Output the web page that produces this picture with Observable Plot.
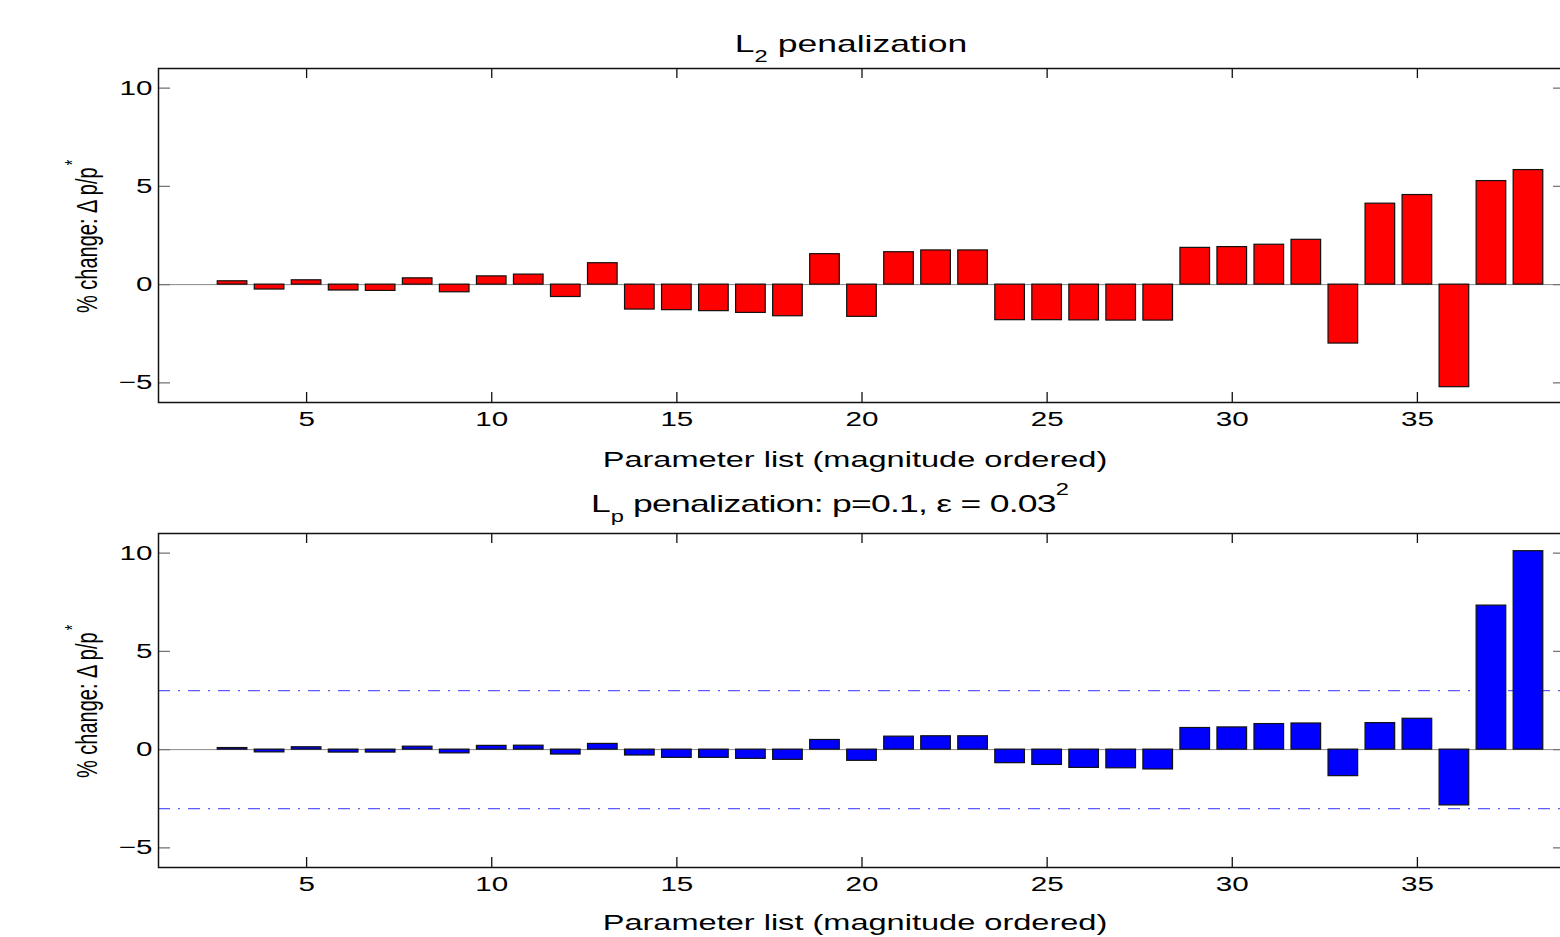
<!DOCTYPE html>
<html>
<head>
<meta charset="utf-8">
<script src="https://cdn.jsdelivr.net/npm/d3@7"></script>
<script src="https://cdn.jsdelivr.net/npm/@observablehq/plot@0.6"></script>
<style>
  html, body { margin: 0; padding: 0; background: #fff; }
  #root { position: relative; width: 1560px; height: 937px; overflow: hidden; background: #fff; }
  .panel { position: absolute; left: 0; width: 1570px; }
</style>
</head>
<body>
<div id="root"></div>
<script>
// ---- data ----
const paramIndex = [1, 2, 3, 4, 5, 6, 7, 8, 9, 10, 11, 12, 13, 14, 15, 16, 17, 18, 19,
  20, 21, 22, 23, 24, 25, 26, 27, 28, 29, 30, 31, 32, 33, 34, 35, 36, 37, 38];
const l2Change = [0, 0, 0.17, -0.25, 0.22, -0.30, -0.32, 0.32, -0.39, 0.42, 0.51, -0.63,
  1.09, -1.27, -1.30, -1.35, -1.44, -1.61, 1.55, -1.64, 1.65, 1.74, 1.74, -1.81, -1.81,
  -1.82, -1.83, -1.83, 1.87, 1.91, 2.03, 2.28, -3.0, 4.12, 4.56, -5.22, 5.27, 5.83];
const lpChange = [0, 0, 0.08, -0.14, 0.12, -0.15, -0.15, 0.15, -0.19, 0.19, 0.20, -0.25,
  0.29, -0.30, -0.42, -0.42, -0.47, -0.52, 0.49, -0.57, 0.66, 0.68, 0.68, -0.69, -0.78,
  -0.93, -0.95, -1.01, 1.10, 1.13, 1.30, 1.33, -1.35, 1.35, 1.57, -2.84, 7.33, 10.10];
const lpThresholds = [3, -3];
const xTicks = [5, 10, 15, 20, 25, 30, 35];
const yTicks = [-5, 0, 5, 10];
const xDomain = [1, 39];
const yDomain = [-6, 11];
const xLabel = "Parameter list (magnitude ordered)";
const yLabelMain = "% change: \u0394 p/p";
const yLabelSup = "*";
// [text, baseline offset (absolute), font size, letter spacing]
const titleTop = [["L", 0, 24, 0], ["2", 10, 16, 0], [" penalization", 0, 24, 0]];
const titleBottom = [["L", 0, 24, 0], ["p", 10, 16, 0], [" penalization: p=0.1, \u03b5 = 0.03", 0, 24, -0.5], ["2", -17, 16, 0]];

// ---- layout ----
const W = 1570, ML = 158, MR = 5;
const K = 1.48; // horizontal stretch of the reference text
const FONT = "'Liberation Sans', Arial, Helvetica, sans-serif";

function stretchTexts(svg) {
  svg.querySelectorAll("text").forEach(t => {
    if (t.dataset.fixed) return;
    const xa = t.getAttribute("x");
    let x = 0;
    if (xa !== null && !/em/.test(xa)) { x = +xa || 0; t.removeAttribute("x"); }
    const tr = t.getAttribute("transform") || "";
    t.setAttribute("transform", `${tr} translate(${x},0) scale(${K},1)`);
  });
}

function panel({values, color, top, height, mTop, mBottom, title, titleX, titleY, xLabelOffset, extra = []}) {
  const data = paramIndex.map((p, i) => ({p, v: values[i]}));
  const frameH = height - mTop - mBottom;
  const frameW = W - ML - MR;
  const svg = Plot.plot({
    width: W, height,
    marginLeft: ML, marginRight: MR, marginTop: mTop, marginBottom: mBottom,
    style: {fontFamily: FONT, fontSize: "20px", color: "black", background: "transparent", maxWidth: "none", overflow: "visible"},
    x: {type: "linear", domain: xDomain},
    y: {type: "linear", domain: yDomain},
    marks: [
      Plot.ruleY([0], {stroke: "#8a8a8a", strokeWidth: 1}),
      ...extra,
      Plot.rect(data, {x1: d => d.p - 0.4, x2: d => d.p + 0.4, y1: 0, y2: "v",
        fill: color, stroke: "#111", strokeWidth: 1.2, clip: true}),
      Plot.tickX(xTicks, {x: d => d, insetTop: frameH - 10, stroke: "#111", strokeWidth: 1.3}),
      Plot.tickX(xTicks, {x: d => d, insetBottom: frameH - 10, stroke: "#111", strokeWidth: 1.3}),
      Plot.tickY(yTicks, {y: d => d, insetRight: frameW - 12, stroke: "#777", strokeWidth: 1.3}),
      Plot.tickY(yTicks, {y: d => d, insetLeft: frameW - 12, stroke: "#777", strokeWidth: 1.3}),
      Plot.axisX(xTicks, {tickSize: 0, tickPadding: 9, label: null, fontSize: 20}),
      Plot.axisY(yTicks, {tickSize: 0, tickPadding: 6, label: null, fontSize: 20}),
      Plot.frame({stroke: "#111", strokeWidth: 1.5})
    ]
  });
  const s = d3.select(svg);
  // title with sub/superscripts
  const t = s.append("text").attr("text-anchor", "middle").attr("x", titleX).attr("y", titleY)
    .attr("font-family", FONT).attr("fill", "black");
  let prev = 0;
  title.forEach(([txt, off, size, ls]) => {
    const sp = t.append("tspan").attr("dy", off - prev).attr("font-size", size).text(txt);
    if (ls) sp.attr("letter-spacing", ls);
    prev = off;
  });
  // x label
  s.append("text").attr("text-anchor", "middle").attr("x", 855).attr("y", mTop + frameH + xLabelOffset)
    .attr("font-family", FONT).attr("font-size", 22).attr("fill", "black").text(xLabel);
  stretchTexts(svg);
  // y label (rotated, stretched across)
  const yl = s.append("text").attr("data-fixed", "1")
    .attr("transform", `translate(97,${mTop + 245}) scale(${K},1) rotate(-90)`)
    .attr("text-anchor", "start").attr("font-family", FONT).attr("font-size", 20).attr("fill", "black");
  yl.append("tspan").text(yLabelMain);
  yl.append("tspan").attr("dy", -12).attr("dx", 2).attr("font-size", 14).text(yLabelSup);

  const div = document.createElement("div");
  div.className = "panel";
  div.style.top = top + "px";
  div.appendChild(svg);
  document.getElementById("root").appendChild(div);
}

panel({values: l2Change, color: "#ff0000", top: 0, height: 465, mTop: 68, mBottom: 63,
  title: titleTop, titleX: 851, titleY: 52, xLabelOffset: 65});
panel({values: lpChange, color: "#0000ff", top: 465, height: 472, mTop: 68, mBottom: 70,
  title: titleBottom, titleX: 830, titleY: 47, xLabelOffset: 63,
  extra: [Plot.ruleY(lpThresholds, {stroke: "#5b5bff", strokeWidth: 1.2, strokeDasharray: "12,8,2,8"})]});
</script>
</body>
</html>
